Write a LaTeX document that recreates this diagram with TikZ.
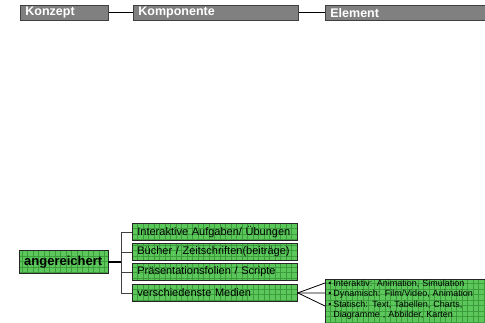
\documentclass[tikz,border=0pt]{standalone}
\usepackage{fontspec}
\setmainfont{Liberation Sans}
\usetikzlibrary{patterns.meta}
\definecolor{boxgray}{HTML}{808080}
\definecolor{gfill}{HTML}{5CC85C}
\definecolor{gdark}{HTML}{3C9C3C}
\definecolor{linegray}{HTML}{404040}
\tikzset{
  graybox/.style={draw=black!75, line width=0.8pt, fill=boxgray, text=white,
    font=\bfseries\fontsize{12.5}{14}\selectfont, inner xsep=5pt, inner ysep=0pt,
    anchor=north west, align=left, minimum height=15pt},
  greenbase/.style={draw=black!85, line width=0.8pt, preaction={fill=gfill},
    pattern={Hatch[angle=0,distance=5.5pt,line width=0.35pt]}, pattern color=gdark,
    anchor=north west, align=left, inner ysep=0pt},
  itembox/.style={greenbase, font=\fontsize{11}{13}\selectfont, inner xsep=5pt,
    text width=155pt, minimum height=17pt},
  conn/.style={draw=black, line width=0.8pt},
  bus/.style={draw=linegray, line width=0.8pt},
}
\begin{document}
\begin{tikzpicture}[x=1pt,y=1pt]
\useasboundingbox (0,0) rectangle (485,322);
% top row
\node[graybox, text width=78pt] (konzept) at (20,317) {Konzept};
\node[graybox, text width=155pt] (komp) at (133,317) {Komponente};
\node[graybox, text width=160pt] (elem) at (325,317) {Element};
\draw[conn] (konzept.east) -- (komp.west);
\draw[conn] (komp.east) -- (elem.west);
% left node
\node[greenbase, font=\bfseries\fontsize{13}{15}\selectfont, inner xsep=5pt,
  text width=79pt, minimum height=23pt] (ang) at (19,71.5) {angereichert};
% items
\node[itembox] (b1) at (132,99) {Interaktive Aufgaben/ Übungen};
\node[itembox] (b2) at (132,79) {Bücher / Zeitschriften(beiträge)};
\node[itembox] (b3) at (132,59) {Präsentationsfolien / Scripte};
\node[itembox] (b4) at (132,38) {verschiedenste Medien};
\coordinate (busp) at (121,0);
\draw[bus] (b1.west) -- (b1.west -| busp) |- (b4.west);
\draw[bus] (b2.west) -- (b2.west -| busp);
\draw[bus] (b3.west) -- (b3.west -| busp);
\draw[draw=black, line width=1.6pt] (ang.east) -- (ang.east -| busp);
% detail box
\node[greenbase, font=\fontsize{9}{10.5}\selectfont, inner xsep=3pt, inner ysep=0.5pt,
  text width=160pt] (detail) at (325,43)
  {\makebox[5pt][l]{•}Interaktiv: Animation, Simulation\\
   \makebox[5pt][l]{•}Dynamisch: Film/Video, Animation\\
   \makebox[5pt][l]{•}Statisch: Text, Tabellen, Charts,\\
   \hspace*{5pt}Diagramme , Abbilder, Karten\rule[-18pt]{0pt}{18pt}};
\coordinate (f1) at (325,39);
\coordinate (f2) at (325,29);
\coordinate (f3) at (325,16);
\draw[conn] (b4.east) -- (f1);
\draw[conn] (b4.east) -- (f2);
\draw[conn] (b4.east) -- (f3);
\end{tikzpicture}
\end{document}
